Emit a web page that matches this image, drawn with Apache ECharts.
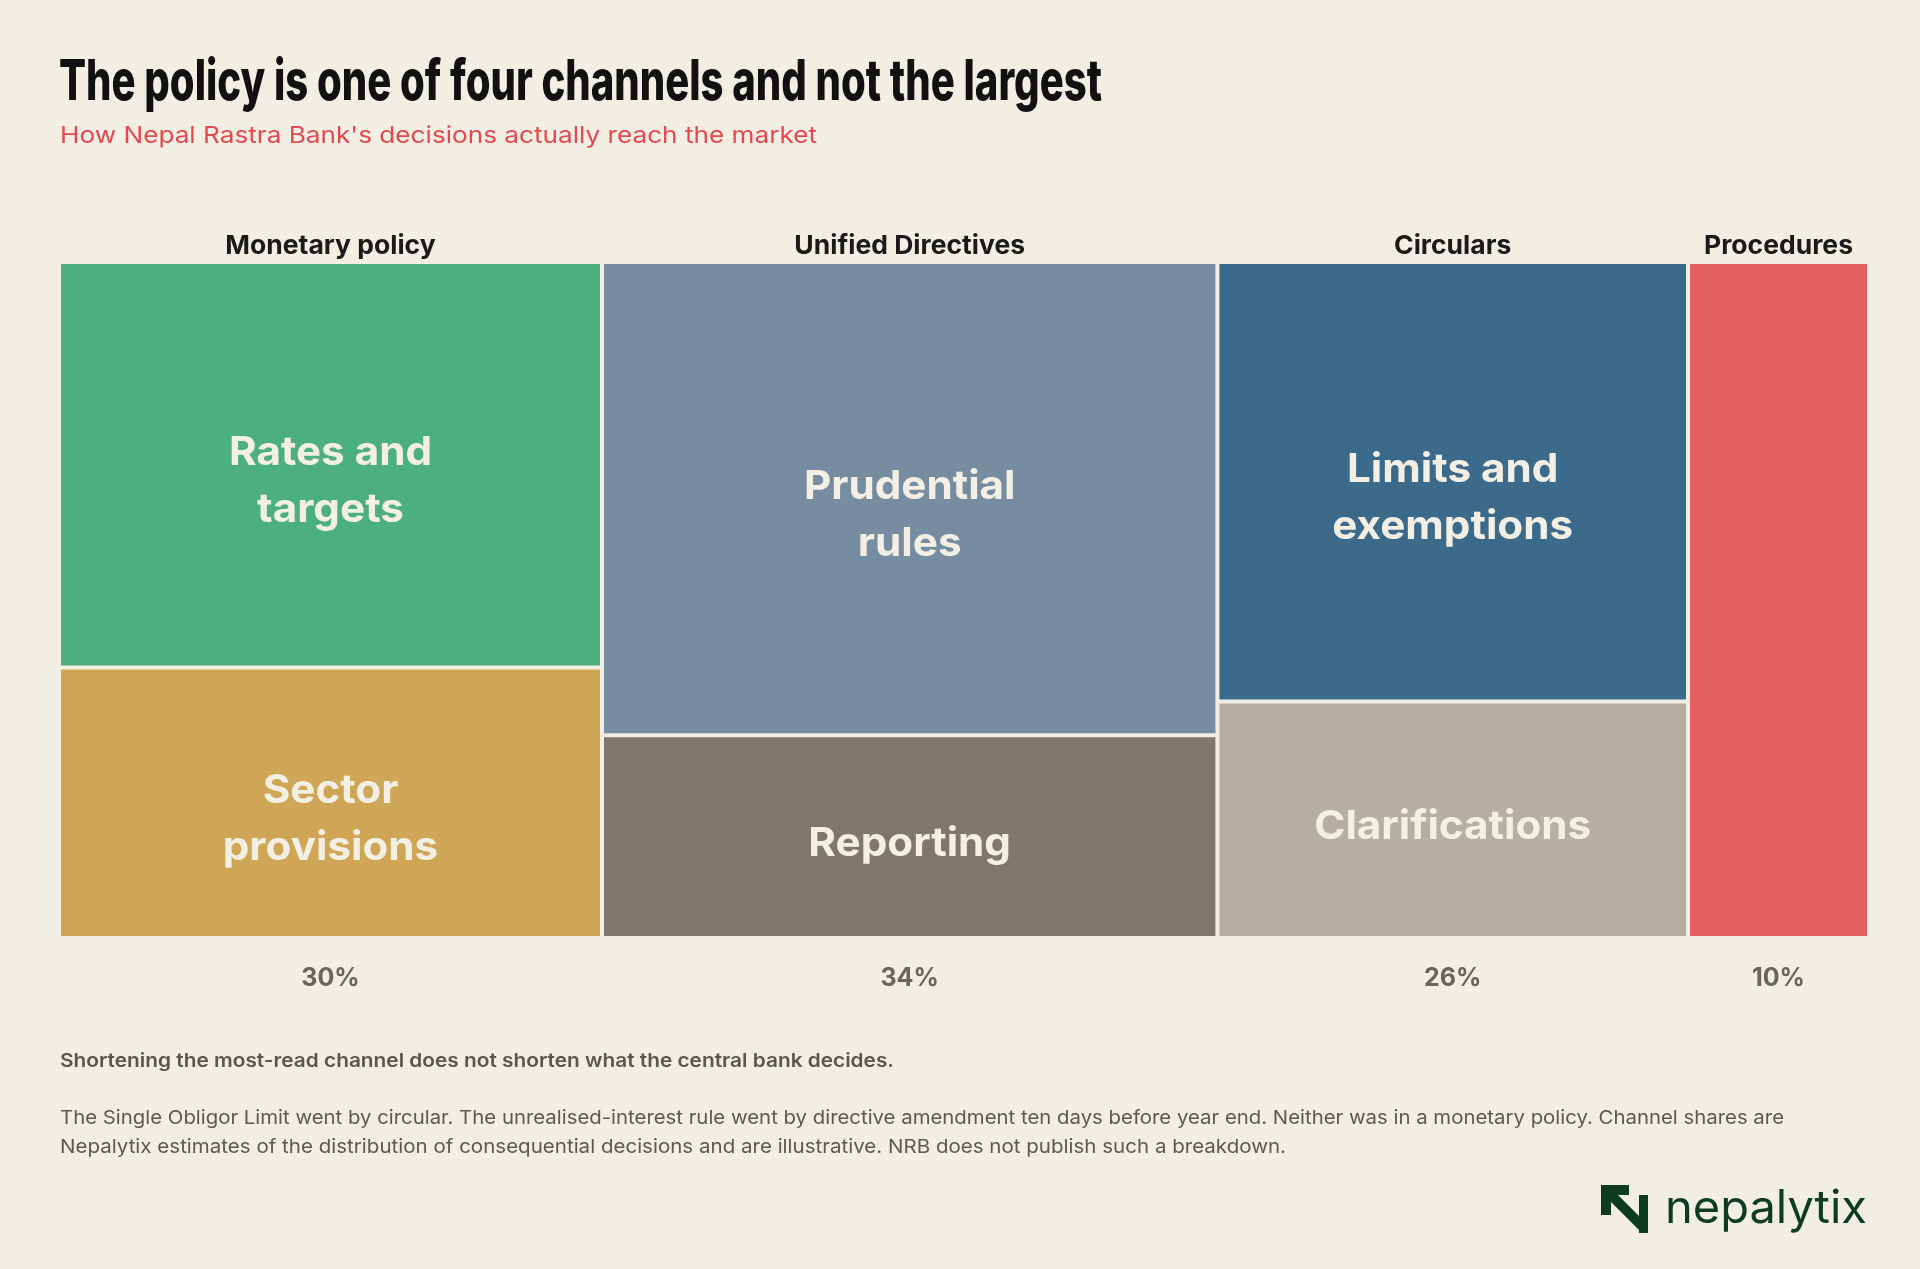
<!DOCTYPE html>
<html><head><meta charset="utf-8">
<script src="https://cdn.jsdelivr.net/npm/echarts@6/dist/echarts.min.js"></script>
<style>html,body{margin:0;padding:0;background:#f2eee4;}#chart{width:1920px;height:1269px;}</style>
</head><body><div id="chart"></div>
<script>
// ---- data ----
const channels = ['Monetary policy', 'Unified Directives', 'Circulars', 'Procedures'];
const channelShares = [30, 34, 26, 10];
const segmentLabels = ['Rates and\ntargets', 'Sector\nprovisions', 'Prudential\nrules', 'Reporting', 'Limits and\nexemptions', 'Clarifications', ''];
const segmentChannel = [0, 0, 1, 1, 2, 2, 3];
const segmentShareOfChannel = [60, 40, 70, 30, 65, 35, 100];

// ---- text ----
const titleText = 'The policy is one of four channels and not the largest';
const subtitleText = "How Nepal Rastra Bank's decisions actually reach the market";
const noteBold = 'Shortening the most-read channel does not shorten what the central bank decides.';
const noteLines = [
  'The Single Obligor Limit went by circular. The unrealised-interest rule went by directive amendment ten days before year end. Neither was in a monetary policy. Channel shares are',
  'Nepalytix estimates of the distribution of consequential decisions and are illustrative. NRB does not publish such a breakdown.'
];

// ---- styles ----
const BG = '#f2eee4';
const segmentColors = ['#4caf7e', '#cfa655', '#768ca1', '#7f776b', '#3b6a8b', '#b5aea2', '#e25e5f'];
const LABEL_FONT = '"Inter", "Noto Sans", sans-serif';

const ctx = document.createElement('canvas').getContext('2d');
function fit(text, font, target) { ctx.font = font; return target / ctx.measureText(text).width; }

// build channel rows
const channelStart = [];
let acc = 0;
channelShares.forEach(s => { channelStart.push(acc); acc += s; });
const channelData = channels.map((c, i) => [channelStart[i], channelStart[i] + channelShares[i], channelShares[i], i]);

const yAcc = channels.map(() => 0);
const cellData = segmentLabels.map((lab, i) => {
  const c = segmentChannel[i];
  const y0 = yAcc[c];
  const y1 = y0 + segmentShareOfChannel[i];
  yAcc[c] = y1;
  return [channelStart[c], channelStart[c] + channelShares[c], y0, y1, i];
});

const chart = echarts.init(document.getElementById('chart'));

const titleFont = '800 56px ' + LABEL_FONT;
const subFont = '400 23px ' + LABEL_FONT;
const boldFont = '600 19px ' + LABEL_FONT;
const paraFont = '400 19px ' + LABEL_FONT;
const logoFont = '400 46px ' + LABEL_FONT;

const graphics = [
  { type: 'text', x: 59, y: 83, scaleX: fit(titleText, titleFont, 1043),
    style: { text: titleText, font: titleFont, fill: '#111111', align: 'left', verticalAlign: 'middle' } },
  { type: 'text', x: 60, y: 136, scaleX: fit(subtitleText, subFont, 757),
    style: { text: subtitleText, font: subFont, fill: '#e24a4f', align: 'left', verticalAlign: 'middle' } },
  { type: 'text', x: 60, y: 1061, scaleX: fit(noteBold, boldFont, 834),
    style: { text: noteBold, font: boldFont, fill: '#5b564e', align: 'left', verticalAlign: 'middle' } },
  { type: 'text', x: 60, y: 1118, scaleX: fit(noteLines[0], paraFont, 1724),
    style: { text: noteLines[0], font: paraFont, fill: '#5e5950', align: 'left', verticalAlign: 'middle' } },
  { type: 'text', x: 60, y: 1147, scaleX: fit(noteLines[1], paraFont, 1226),
    style: { text: noteLines[1], font: paraFont, fill: '#5e5950', align: 'left', verticalAlign: 'middle' } },
  // logo
  { type: 'polygon', shape: { points: [[1601,1185],[1629,1185],[1629,1195],[1611,1195],[1611,1215],[1601,1215]] }, style: { fill: '#0d3b24' } },
  { type: 'polygon', shape: { points: [[1603,1194],[1610,1187],[1648,1225],[1641,1232]] }, style: { fill: '#0d3b24' } },
  { type: 'rect', shape: { x: 1639, y: 1195, width: 9, height: 38 }, style: { fill: '#0d3b24' } },
  { type: 'text', x: 1665, y: 1209, scaleX: fit('nepalytix', logoFont, 202),
    style: { text: 'nepalytix', font: logoFont, fill: '#0d3b24', align: 'left', verticalAlign: 'middle' } }
];

chart.setOption({
  backgroundColor: BG,
  animation: false,
  grid: { left: 59, right: 51, top: 262, bottom: 331 },
  xAxis: { type: 'value', min: 0, max: 100, show: false },
  yAxis: { type: 'value', min: 0, max: 100, inverse: true, show: false },
  graphic: graphics,
  series: [
    {
      type: 'custom',
      name: 'cells',
      data: cellData,
      renderItem: function (params, api) {
        const x0 = api.value(0), x1 = api.value(1), y0 = api.value(2), y1 = api.value(3), idx = api.value(4);
        const p0 = api.coord([x0, y0]);
        const p1 = api.coord([x1, y1]);
        const g = 2;
        const rx = p0[0] + g, ry = p0[1] + g, rw = p1[0] - p0[0] - 2 * g, rh = p1[1] - p0[1] - 2 * g;
        const label = segmentLabels[idx];
        const lines = label ? label.split('\n').length : 0;
        const off = lines > 1 ? 17 : 7;
        const children = [{ type: 'rect', shape: { x: rx, y: ry, width: rw, height: rh }, style: { fill: segmentColors[idx] } }];
        if (label) {
          children.push({ type: 'text', x: rx + rw / 2, y: ry + rh / 2 + off, scaleX: 1.055,
            style: { text: label, font: '700 40px ' + LABEL_FONT, fill: '#f3efe4', align: 'center', verticalAlign: 'middle', lineHeight: 57 } });
        }
        return { type: 'group', children: children };
      }
    },
    {
      type: 'custom',
      name: 'channels',
      data: channelData,
      renderItem: function (params, api) {
        const x0 = api.value(0), x1 = api.value(1), share = api.value(2), idx = api.value(3);
        const top = api.coord([(x0 + x1) / 2, 0]);
        const bot = api.coord([(x0 + x1) / 2, 100]);
        return { type: 'group', children: [
          { type: 'text', x: top[0], y: top[1] - 16, scaleX: 1.02,
            style: { text: channels[idx], font: '700 26px ' + LABEL_FONT, fill: '#1a1a1a', align: 'center', verticalAlign: 'middle' } },
          { type: 'text', x: bot[0], y: bot[1] + 40,
            style: { text: share + '%', font: '700 25px ' + LABEL_FONT, fill: '#6b645a', align: 'center', verticalAlign: 'middle' } }
        ] };
      }
    }
  ]
});
</script></body></html>
